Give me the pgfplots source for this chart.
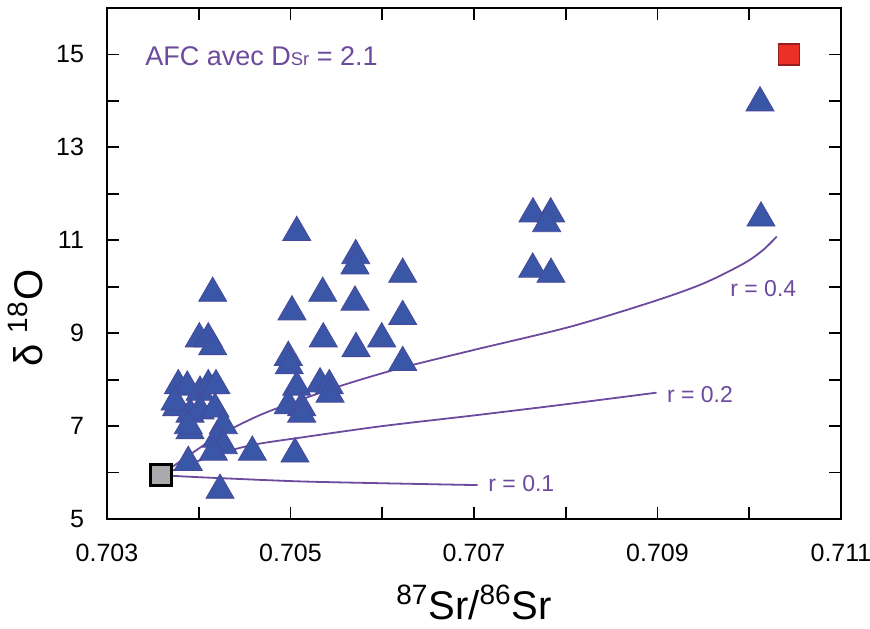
\documentclass[border=0pt]{standalone}
\usepackage{pgfplots}
\pgfplotsset{compat=1.18}
\usepackage{fontspec}
\setmainfont{Liberation Sans}
\definecolor{tri}{RGB}{58,86,166}
\definecolor{triedge}{RGB}{72,72,155}
\definecolor{purp}{RGB}{108,74,158}
\definecolor{greysq}{RGB}{168,170,173}
\definecolor{redsq}{RGB}{236,48,40}
\definecolor{redsqedge}{RGB}{150,30,30}
\begin{document}
\begin{tikzpicture}
\begin{axis}[name=ax, scale only axis, width=367pt, height=255.5pt,
 xmin=0.703, xmax=0.711, ymin=5, ymax=16,
 xtick={0.703,0.705,0.707,0.709,0.711},
 xticklabels={0.703,0.705,0.707,0.709,0.711},
 minor xtick={0.704,0.706,0.708,0.710},
 ytick={5,7,9,11,13,15}, yticklabels={5,7,9,11,13,15},
 minor ytick={6,8,10,12,14,16},
 tick align=inside, major tick length=6pt, minor tick length=6pt,
 tick style={black, line width=0.9pt},
 axis line style={line width=1pt},
 scaled x ticks=false,
 tick label style={font=\fontsize{12.5}{15}\selectfont},
 xticklabel style={yshift=-9pt},
 yticklabel style={xshift=-8pt},
 xlabel={\textsuperscript{87}Sr/\textsuperscript{86}Sr},
 ylabel={δ \textsuperscript{18}O},
 label style={font=\fontsize{20}{24}\selectfont},
 xlabel style={at={(axis description cs:0.5,-0.1966)}, anchor=base},
 ylabel style={at={(axis description cs:-0.0872,0.393)}, anchor=base},
]
\addplot[only marks, mark=triangle*, mark size=8.1pt,
  mark options={fill=tri, draw=triedge, line width=0.4pt}] table {
x y
0.710117 13.96
0.710128 11.48
0.707643 11.57
0.707836 11.57
0.707792 11.36
0.707640 10.38
0.707839 10.27
0.705068 11.17
0.705711 10.67
0.705703 10.45
0.706223 10.27
0.704152 9.86
0.705351 9.86
0.705703 9.67
0.705016 9.46
0.706223 9.36
0.704006 8.88
0.704104 8.88
0.704152 8.71
0.705357 8.88
0.705994 8.88
0.705714 8.67
0.704976 8.48
0.704987 8.30
0.706223 8.37
0.703777 7.87
0.703875 7.84
0.704014 7.73
0.704104 7.87
0.704188 7.87
0.705068 7.84
0.705322 7.91
0.705423 7.87
0.705431 7.69
0.703760 7.40
0.703741 7.52
0.703905 7.26
0.704014 7.33
0.704177 7.37
0.704976 7.44
0.705122 7.40
0.705122 7.26
0.703905 6.90
0.703886 7.01
0.704268 7.01
0.704196 6.72
0.704268 6.58
0.704159 6.44
0.703886 6.22
0.704584 6.44
0.705049 6.40
0.704232 5.62
};
\addplot[purp, line width=0.9pt, smooth, tension=0.5] coordinates {
(0.703589,5.95) (0.7038,5.92) (0.70423,5.88) (0.7051,5.81) (0.7060,5.77) (0.70704,5.73)};
\addplot[purp, line width=0.9pt, smooth, tension=0.5] coordinates {
(0.703589,5.95) (0.70387,6.16) (0.70423,6.41) (0.70460,6.60) (0.70510,6.75) (0.70600,7.00) (0.70700,7.23) (0.70800,7.47) (0.70899,7.72)};
\addplot[purp, line width=0.9pt, smooth, tension=0.5] coordinates {
(0.703589,5.95) (0.70387,6.34) (0.70423,6.81) (0.70467,7.24) (0.70510,7.56) (0.70560,7.90) (0.70622,8.26) (0.70700,8.64) (0.70805,9.14) (0.70895,9.68) (0.70950,10.07) (0.70994,10.50) (0.71015,10.79) (0.71030,11.08)};
\addplot[only marks, mark=square*, mark size=5.2pt,
  mark options={fill=greysq, draw=black, line width=1.3pt}] coordinates {(0.703589,5.95)};
\addplot[only marks, mark=square*, mark size=5.3pt,
  mark options={fill=redsq, draw=redsqedge, line width=0.8pt}] coordinates {(0.710433,15.0)};
\node[anchor=base west, inner sep=0pt, text=purp, font=\fontsize{13.5}{16}\selectfont]
  at (axis cs:0.703414,14.77) {AFC avec D{\fontsize{9.2}{11}\selectfont Sr} = 2.1};
\node[anchor=base west, inner sep=0pt, text=purp, font=\fontsize{11.5}{14}\selectfont]
  at (axis cs:0.70979,9.78) {r = 0.4};
\node[anchor=base west, inner sep=0pt, text=purp, font=\fontsize{11.5}{14}\selectfont]
  at (axis cs:0.70910,7.51) {r = 0.2};
\node[anchor=base west, inner sep=0pt, text=purp, font=\fontsize{11.5}{14}\selectfont]
  at (axis cs:0.707153,5.60) {r = 0.1};
\end{axis}
\pgfresetboundingbox
\path ([xshift=-53.5pt,yshift=-54.5pt]ax.south west) rectangle ([xshift=14.5pt,yshift=4pt]ax.north east);
\end{tikzpicture}
\end{document}
